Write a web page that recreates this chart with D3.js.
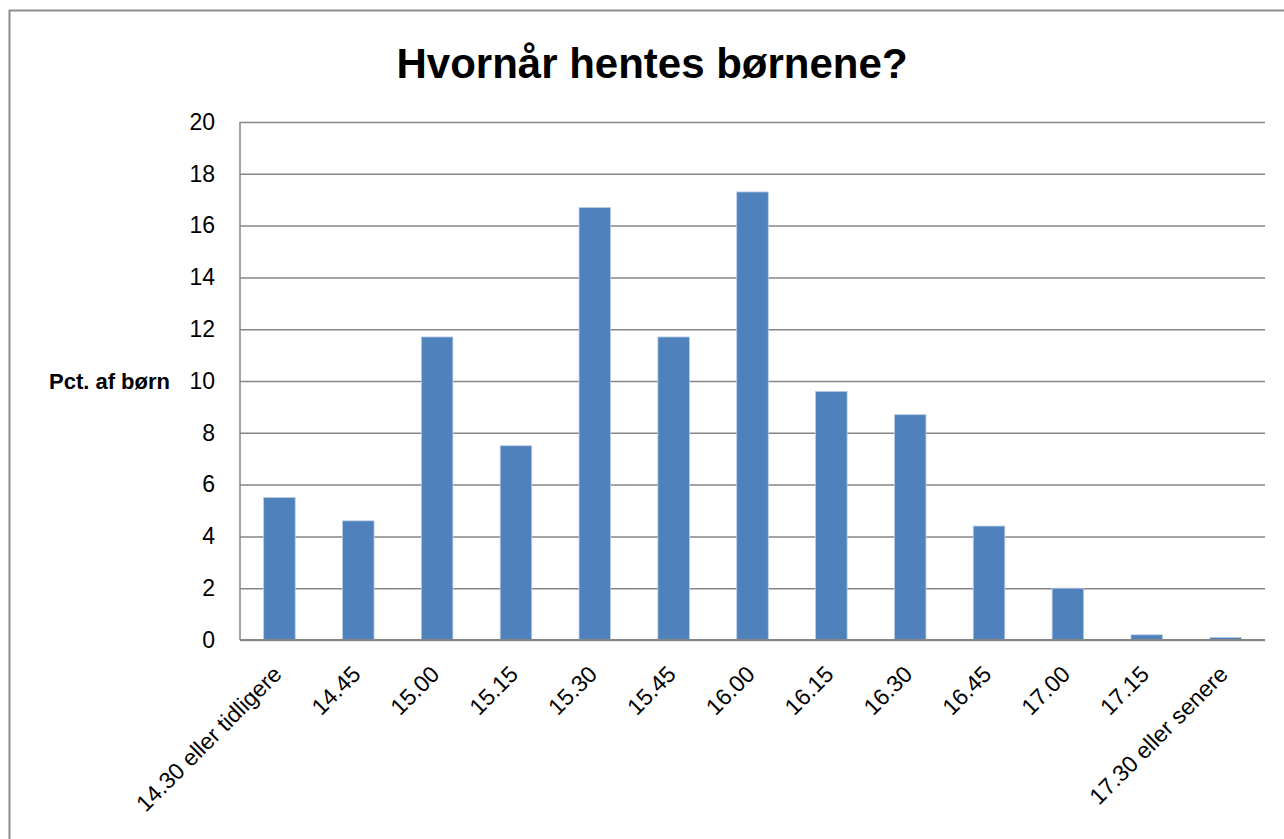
<!DOCTYPE html>
<html>
<head>
<meta charset="utf-8">
<script src="https://cdn.jsdelivr.net/npm/d3@7"></script>
<style>
  body { margin: 0; background: #fff; }
  svg { display: block; }
</style>
</head>
<body>
<script>
// Data
var categories = ["14.30 eller tidligere", "14.45", "15.00", "15.15", "15.30", "15.45",
                  "16.00", "16.15", "16.30", "16.45", "17.00", "17.15", "17.30 eller senere"];
var values = [5.5, 4.6, 11.7, 7.5, 16.7, 11.7, 17.3, 9.6, 8.7, 4.4, 2.0, 0.2, 0.1];
var yTicks = [0, 2, 4, 6, 8, 10, 12, 14, 16, 18, 20];
var title = "Hvornår hentes børnene?";
var yTitle = "Pct. af børn";

var canvas = {w: 1284, h: 839},
    plot = {left: 240, right: 1265, top: 122, bottom: 640};

var svg = d3.select("body").append("svg")
    .attr("width", canvas.w)
    .attr("height", canvas.h);

// outer chart frame (runs off the right and bottom edge)
svg.append("rect")
    .attr("x", 9.5).attr("y", 10.5)
    .attr("width", 1300).attr("height", 900)
    .attr("fill", "#fff")
    .attr("stroke", "#8c8c8c")
    .attr("stroke-width", 2);

var x = d3.scaleBand()
    .domain(categories)
    .range([plot.left, plot.right])
    .paddingInner(0.6)
    .paddingOuter(0.3);

var y = d3.scaleLinear()
    .domain([0, 20])
    .range([plot.bottom, plot.top]);

var font = "'Liberation Sans', Arial, sans-serif";

// horizontal gridlines + y labels
var yAxis = svg.append("g")
    .attr("transform", "translate(" + plot.left + ",0)")
    .call(d3.axisLeft(y).tickValues(yTicks).tickSize(-(plot.right - plot.left)).tickPadding(25));
yAxis.select(".domain").remove();
yAxis.selectAll(".tick line")
    .attr("stroke", "#868686")
    .attr("stroke-width", 1.5);
yAxis.selectAll(".tick text")
    .style("font-family", font)
    .style("font-size", "23px")
    .attr("fill", "#000");

// bars
svg.append("g").selectAll("rect")
    .data(values)
    .enter().append("rect")
    .attr("x", function(d, i) { return x(categories[i]); })
    .attr("y", function(d) { return y(d); })
    .attr("width", x.bandwidth())
    .attr("height", function(d) { return y(0) - y(d); })
    .attr("fill", "#4f81bd")
    .attr("stroke", "#b9cde5")
    .attr("stroke-width", 0.8);

// y axis line
svg.append("line")
    .attr("x1", plot.left).attr("x2", plot.left)
    .attr("y1", plot.top).attr("y2", plot.bottom)
    .attr("stroke", "#868686")
    .attr("stroke-width", 1.5);
// x axis line
svg.append("line")
    .attr("x1", plot.left).attr("x2", plot.right)
    .attr("y1", plot.bottom).attr("y2", plot.bottom)
    .attr("stroke", "#868686")
    .attr("stroke-width", 2);

// rotated category labels
svg.append("g").selectAll("text")
    .data(categories)
    .enter().append("text")
    .attr("transform", function(d) {
        return "translate(" + (x(d) + x.bandwidth() / 2 - 2) + "," + 670 + ") rotate(-45)";
    })
    .attr("text-anchor", "end")
    .attr("dy", "0.35em")
    .style("font-family", font)
    .style("font-size", "23px")
    .text(function(d) { return d; });

// title
svg.append("text")
    .attr("x", 652).attr("y", 78)
    .attr("text-anchor", "middle")
    .style("font-family", font)
    .style("font-size", "42px")
    .style("font-weight", "bold")
    .text(title);

// y axis title
svg.append("text")
    .attr("x", 170).attr("y", 389)
    .attr("text-anchor", "end")
    .style("font-family", font)
    .style("font-size", "22px")
    .style("font-weight", "bold")
    .text(yTitle);
</script>
</body>
</html>
